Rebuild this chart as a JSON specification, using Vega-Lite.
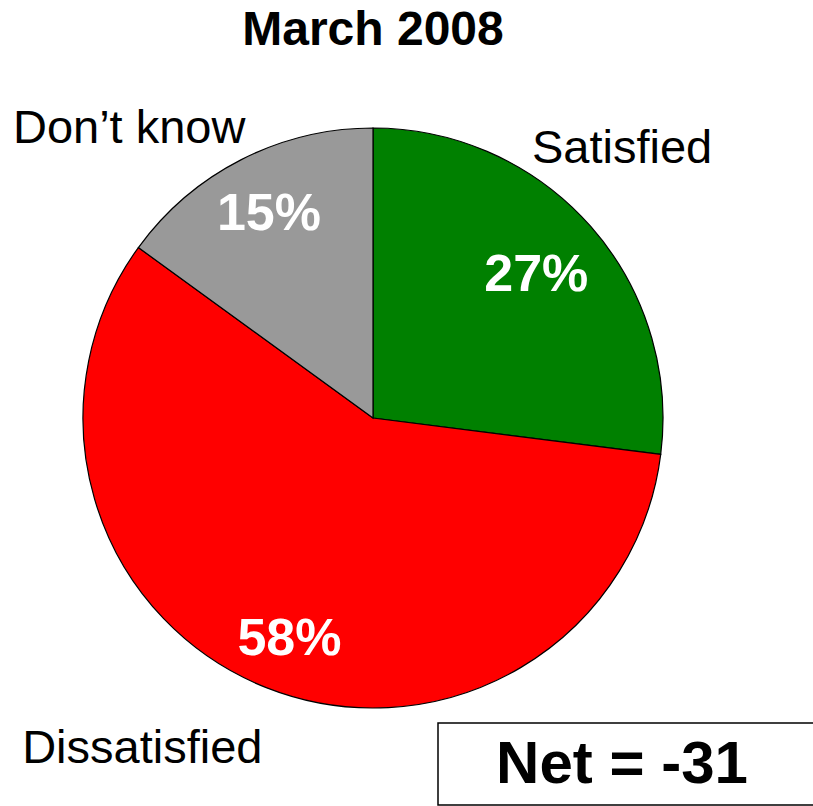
{
  "$schema": "https://vega.github.io/schema/vega-lite/v6.json",
  "width": 746,
  "height": 776,
  "autosize": {"type": "none"},
  "padding": {"left": 0, "top": 30, "right": 67, "bottom": 0},
  "background": "white",
  "config": {"view": {"stroke": null}, "font": "Liberation Sans"},
  "title": {
    "text": "March 2008",
    "fontSize": 48,
    "fontWeight": "bold",
    "font": "Liberation Sans",
    "color": "black",
    "anchor": "middle",
    "frame": "group",
    "baseline": "alphabetic",
    "offset": -63
  },
  "layer": [
    {
      "data": {
        "values": [
          {"category": "Satisfied", "share": 0.27},
          {"category": "Dissatisfied", "share": 0.58},
          {"category": "Don’t know", "share": 0.15}
        ]
      },
      "transform": [{"window": [{"op": "row_number", "as": "idx"}]}],
      "encoding": {
        "theta": {"field": "share", "type": "quantitative", "stack": true},
        "order": {"field": "idx", "type": "quantitative"},
        "detail": {"field": "category", "type": "nominal"}
      },
      "layer": [
        {
          "mark": {"type": "arc", "outerRadius": 290, "stroke": "black", "strokeWidth": 1.2},
          "encoding": {
            "color": {
              "field": "category",
              "type": "nominal",
              "scale": {
                "domain": ["Satisfied", "Dissatisfied", "Don’t know"],
                "range": ["#008000", "#ff0000", "#999999"]
              },
              "legend": null
            }
          }
        },
        {
          "mark": {"type": "text", "radius": 227, "fontSize": 52, "fontWeight": "bold", "fill": "white", "align": "center", "baseline": "middle", "dx": -7, "dy": 7},
          "encoding": {
            "text": {"condition": {"test": "datum.category === 'Satisfied'", "field": "share", "type": "quantitative", "format": ".0%"}, "value": ""}
          }
        },
        {
          "mark": {"type": "text", "radius": 227, "fontSize": 52, "fontWeight": "bold", "fill": "white", "align": "center", "baseline": "middle", "dx": 0, "dy": 10},
          "encoding": {
            "text": {"condition": {"test": "datum.category === 'Dissatisfied'", "field": "share", "type": "quantitative", "format": ".0%"}, "value": ""}
          }
        },
        {
          "mark": {"type": "text", "radius": 227, "fontSize": 52, "fontWeight": "bold", "fill": "white", "align": "center", "baseline": "middle", "dx": -1, "dy": -2},
          "encoding": {
            "text": {"condition": {"test": "datum.category === 'Don’t know'", "field": "share", "type": "quantitative", "format": ".0%"}, "value": ""}
          }
        },
        {
          "mark": {"type": "text", "radius": 303, "fontSize": 47, "fill": "black", "align": "right", "baseline": "alphabetic", "dx": 10, "dy": -5},
          "encoding": {
            "text": {"condition": {"test": "datum.category === 'Don’t know'", "field": "category", "type": "nominal"}, "value": ""}
          }
        },
        {
          "mark": {"type": "text", "radius": 340, "fontSize": 47, "fill": "black", "align": "center", "baseline": "alphabetic", "dx": -6, "dy": -30},
          "encoding": {
            "text": {"condition": {"test": "datum.category === 'Satisfied'", "field": "category", "type": "nominal"}, "value": ""}
          }
        },
        {
          "mark": {"type": "text", "radius": 360, "fontSize": 47, "fill": "black", "align": "right", "baseline": "alphabetic", "dx": 22, "dy": 10},
          "encoding": {
            "text": {"condition": {"test": "datum.category === 'Dissatisfied'", "field": "category", "type": "nominal"}, "value": ""}
          }
        }
      ]
    },
    {
      "data": {"values": [{"label": "Net = -31"}]},
      "layer": [
        {
          "mark": {"type": "rect", "x": 438, "x2": 815, "y": 693, "y2": 775, "fill": "white", "stroke": "black", "strokeWidth": 1.5}
        },
        {
          "mark": {"type": "text", "x": 622, "y": 753, "fontSize": 60, "fontWeight": "bold", "fill": "black", "align": "center", "baseline": "alphabetic"},
          "encoding": {"text": {"field": "label", "type": "nominal"}}
        }
      ]
    }
  ]
}
